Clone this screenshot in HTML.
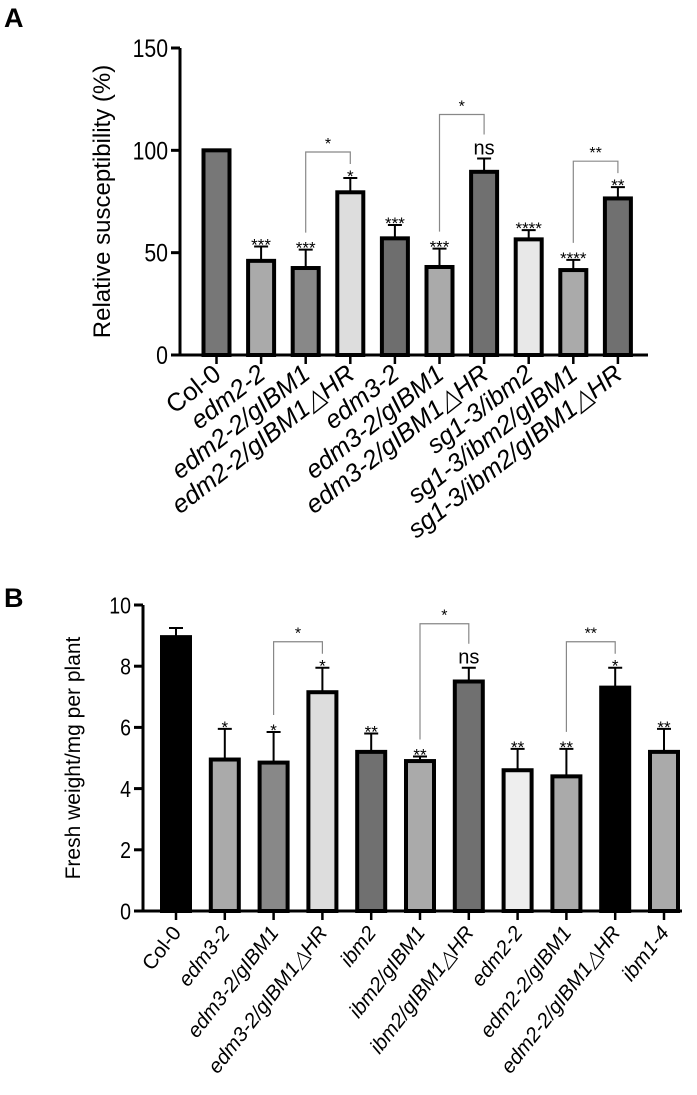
<!DOCTYPE html>
<html><head><meta charset="utf-8"><style>
body{margin:0;background:#fff}
svg{display:block;font-family:"Liberation Sans",sans-serif}
</style></head><body>
<svg id="s" width="697" height="1095"></svg>
<script>
const catsA=["Col-0","edm2-2","edm2-2/gIBM1","edm2-2/gIBM1△HR","edm3-2","edm3-2/gIBM1","edm3-2/gIBM1△HR","sg1-3/ibm2","sg1-3/ibm2/gIBM1","sg1-3/ibm2/gIBM1△HR"];
const valsA=[100,46,42.5,79.5,57,43,89.5,56.5,41.5,76.5];
const errA=[0,7,9,7,6.5,9,6.5,4.5,5,5.5];
const sigA=["","***","***","*","***","***","ns","****","****","**"];
const colA=["#777","#aaa","#888","#ddd","#6e6e6e","#aaa","#707070","#e8e8e8","#aaa","#707070"];
const ticksA=[0,50,100,150];
const brA=[[2,3,"*"],[5,6,"*"],[8,9,"**"]];
const catsB=["Col-0","edm3-2","edm3-2/gIBM1","edm3-2/gIBM1△HR","ibm2","ibm2/gIBM1","ibm2/gIBM1△HR","edm2-2","edm2-2/gIBM1","edm2-2/gIBM1△HR","ibm1-4"];
const valsB=[8.95,4.95,4.85,7.15,5.2,4.9,7.5,4.6,4.4,7.3,5.2];
const errB=[0.3,1.0,1.0,0.8,0.6,0.15,0.45,0.7,0.9,0.65,0.75];
const sigB=["","*","*","*","**","**","ns","**","**","*","**"];
const colB=["#000","#aaa","#888","#ddd","#707070","#aaa","#707070","#eee","#aaa","#000","#aaa"];
const ticksB=[0,2,4,6,8,10];
const brB=[[2,3,"*"],[5,6,"*"],[8,9,"**"]];
const s=document.getElementById('s');
function el(t,a,p){const e=document.createElementNS('http://www.w3.org/2000/svg',t);for(const k in a)e.setAttribute(k,a[k]);(p||s).appendChild(e);return e;}
function panel(o){
 const g=el('g',{});
 
 
 const y=v=>o.y0-(v-o.min)/(o.max-o.min)*(o.y0-o.y1);
 const x=i=>o.x0+i*o.step;
 const L=el('text',{x:4,y:o.ly,'font-size':27,'font-weight':'bold'},g);L.textContent=o.letter;
 
 
 const yt=el('text',{transform:`translate(${o.tx},${(o.y0+o.y1)/2}) rotate(-90)`,'text-anchor':'middle','font-size':o.tfs},g);yt.textContent=o.title;
 
 
 o.vals.forEach((v,i)=>{
  const cx=x(i),w=o.bw;
  const top=y(v+o.err[i]);
  if(o.err[i]>0){
   const eb=el('path',{d:`M${cx} ${y(v)}V${top}M${cx-7} ${top}H${cx+7}`,stroke:'#000','stroke-width':2,fill:'none'},g);
   
   
  }
  const r=el('rect',{x:cx-w/2,y:y(v),width:w,height:o.y0-y(v),fill:o.cols[i],stroke:'#000','stroke-width':4},g);
  
  
  const tk=el('line',{x1:cx,x2:cx,y1:o.y0,y2:o.y0+9,stroke:'#000','stroke-width':2.5},g);
  
  
  if(o.sig[i]){const ns=o.sig[i]=='ns';const t=el('text',{x:cx,y:top-(ns?4:-4),'text-anchor':'middle','font-size':ns?20:17},g);t.textContent=o.sig[i];
   
   }
  const lb=el('text',{transform:`translate(${cx+6},${o.y0+22}) rotate(${o.ang})`,'text-anchor':'end','font-size':o.lfs,'font-style':i==0?'normal':'italic'},g);lb.textContent=o.cats[i];
  
  
 });
 o.br.forEach(b=>{
  const a=b[0],c=b[1];
  const la=y(o.vals[a]+o.err[a])-17, lc=y(o.vals[c]+o.err[c])-(o.sig[c]=='ns'?24:14);
  const yy=Math.min(la,lc)-(c==6?20:12);
  const p=el('path',{d:`M${x(a)} ${la}V${yy}H${x(c)}V${lc}`,stroke:'#888','stroke-width':1.2,fill:'none'},g);
  
  
  const t=el('text',{x:(x(a)+x(c))/2,y:yy-3,'text-anchor':'middle','font-size':16},g);t.textContent=b[2];
  
  
 });
 const ax=el('path',{d:`M${o.ax} ${o.y1}V${o.y0}H${o.xend}`,stroke:'#000','stroke-width':3,fill:'none'},g);
 
 
 o.ticks.forEach(v=>{
  const tl=el('line',{x1:o.ax-9,x2:o.ax,y1:y(v),y2:y(v),stroke:'#000','stroke-width':3},g);
  
  
  const t=el('text',{transform:`translate(${o.ax-12},${y(v)+o.yfs*0.36}) scale(0.85,1)`,'text-anchor':'end','font-size':o.yfs},g);t.textContent=v;
  
  
 });
}
panel({name:'panel-a',letter:'A',ly:27,title:'Relative susceptibility (%)',tx:110,tfs:24,cats:catsA,vals:valsA,err:errA,sig:sigA,cols:colA,ticks:ticksA,br:brA,min:0,max:150,y0:355,y1:48,x0:216.5,step:44.6,bw:26,ax:180,xend:648,lfs:25.5,yfs:25,ang:-38});
panel({name:'panel-b',letter:'B',ly:607,title:'Fresh weight/mg per plant',tx:80,tfs:21,cats:catsB,vals:valsB,err:errB,sig:sigB,cols:colB,ticks:ticksB,br:brB,min:0,max:10,y0:911,y1:605,x0:176,step:48.8,bw:28,ax:143,xend:682,lfs:20.5,yfs:23,ang:-52});
</script>
</body></html>
